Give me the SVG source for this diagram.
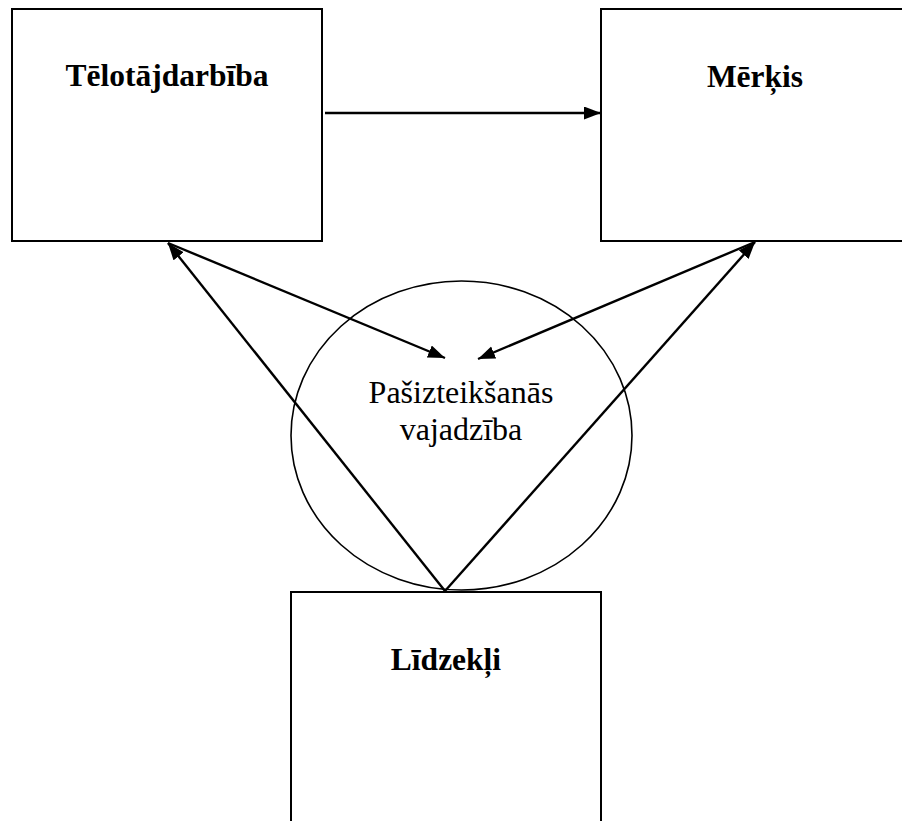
<svg xmlns="http://www.w3.org/2000/svg" width="902" height="821" viewBox="0 0 902 821">
<style>
.box{fill:#fff;stroke:#000;stroke-width:2}
.ell{fill:none;stroke:#000;stroke-width:1.6}
.con{fill:none;stroke:#000;stroke-width:2.4}
.b{font-family:"Liberation Serif","Times New Roman",serif;font-weight:bold;font-size:31.5px;text-anchor:middle;fill:#000}
.r{font-family:"Liberation Serif","Times New Roman",serif;font-size:32px;text-anchor:middle;fill:#000}
</style>
<defs>
<marker id="ah" markerUnits="userSpaceOnUse" markerWidth="20" markerHeight="16" refX="17" refY="6.5" orient="auto">
<path d="M0,0 L17,6.5 L0,13 Z" fill="#000"/>
</marker>
</defs>
<rect width="902" height="821" fill="#fff"/>
<g id="telotajdarbiba">
<rect class="box" x="12" y="9" width="310" height="232"/>
<text class="b" x="167" y="86">Tēlotājdarbība</text>
</g>
<g id="merkis">
<rect class="box" x="601" y="9" width="320" height="232"/>
<text class="b" x="755" y="87">Mērķis</text>
</g>
<g id="vajadziba">
<ellipse class="ell" cx="461.5" cy="435.5" rx="170.5" ry="154.5"/>
<text class="r" x="461" y="403">Pašizteikšanās</text>
<text class="r" x="461" y="440">vajadzība</text>
</g>
<g id="lidzekli">
<rect class="box" x="291" y="592" width="310" height="240"/>
<text class="b" x="446" y="670">Līdzekļi</text>
</g>
<g id="connectors">
<line class="con" x1="325" y1="113" x2="601" y2="113" marker-end="url(#ah)"/>
<line class="con" x1="445" y1="591" x2="168" y2="243" marker-end="url(#ah)"/>
<line class="con" x1="445" y1="591" x2="755" y2="242" marker-end="url(#ah)"/>
<line class="con" x1="168" y1="243" x2="445" y2="358" marker-end="url(#ah)"/>
<line class="con" x1="755" y1="242" x2="478" y2="359" marker-end="url(#ah)"/>
</g>
</svg>
